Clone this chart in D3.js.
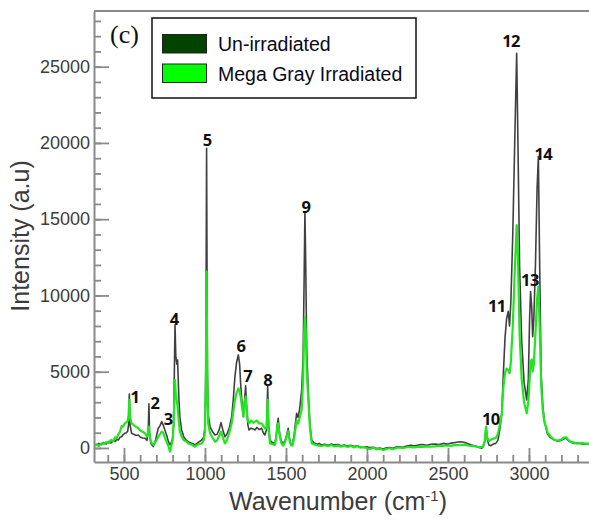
<!DOCTYPE html>
<html>
<head>
<meta charset="utf-8">
<script src="https://cdn.jsdelivr.net/npm/d3@7"></script>
<style>
  body { margin: 0; background: #fff; }
  svg { display: block; }
</style>
</head>
<body>
<svg id="chart" width="589" height="521"></svg>
<script>
// Raman spectra: wavenumber (cm-1) and intensity (a.u) for both samples
const wavenumber = [
  315,330,345,360,375,390,405,420,435,445,
  455,465,475,486,495,505,515,523,528,533,
  538,547,560,575,588,600,615,630,642,650,
  654,658,666,681,695,705,712,722,733,742,
  752,763,775,784,792,800,806,811,815,820,
  826,831,838,845,856,870,885,897,910,925,
  938,950,965,980,992,1000,1005,1010,1015,1020,
  1031,1045,1062,1075,1088,1099,1110,1123,1135,1150,
  1165,1175,1185,1195,1206,1214,1220,1230,1237,1245,
  1251,1258,1265,1272,1285,1298,1309,1320,1335,1350,
  1360,1370,1380,1387,1393,1401,1415,1432,1440,1446,
  1452,1460,1470,1483,1495,1506,1514,1522,1530,1539,
  1550,1558,1566,1575,1585,1597,1606,1612,1617,1622,
  1628,1638,1648,1659,1672,1690,1705,1720,1740,1760,
  1780,1800,1820,1840,1860,1880,1900,1920,1940,1960,
  1980,2000,2020,2040,2060,2080,2100,2120,2140,2160,
  2180,2200,2220,2245,2270,2295,2320,2345,2370,2395,
  2420,2445,2470,2495,2520,2545,2574,2600,2620,2645,
  2670,2690,2708,2718,2727,2735,2742,2752,2765,2780,
  2795,2808,2820,2832,2842,2852,2862,2872,2880,2888,
  2900,2912,2924,2932,2942,2955,2970,2986,2996,3004,
  3010,3017,3023,3030,3040,3050,3058,3066,3075,3085,
  3095,3105,3115,3130,3145,3160,3180,3200,3215,3230,
  3245,3260,3280,3300,3320,3340,3360,3380,3400,3420,
  3440
];

const unirradiated = [
  250,180,300,220,350,260,420,330,480,420,
  560,520,700,740,880,960,1000,1100,1500,3540,
  1500,960,900,820,850,720,650,640,500,1200,
  2890,1000,300,90,500,1000,1290,1450,1730,1500,
  1200,850,400,200,350,600,1500,5000,8070,6000,
  5500,5770,3500,2000,1180,700,500,410,350,280,
  200,300,420,520,700,1400,5000,19650,5000,2200,
  1400,1100,850,900,1200,1660,1200,740,900,1300,
  2050,3200,4680,5600,6100,5500,4240,2800,2050,3200,
  4070,2500,1500,1180,1300,1250,1180,1350,1200,1290,
  1000,850,1200,4070,1500,520,350,300,800,1500,
  1950,1000,450,300,500,900,1290,600,250,200,
  800,1600,2270,2000,2600,3800,6000,11000,15500,12000,
  6500,3590,1500,520,350,250,300,200,250,180,
  260,200,220,150,200,120,180,100,150,60,
  50,80,20,50,-30,0,-65,10,30,-20,
  60,80,50,130,180,140,200,230,180,240,
  260,220,300,250,320,360,410,380,300,200,
  120,50,-20,100,400,1400,600,200,150,260,
  300,500,1200,2290,4900,7200,8500,8960,8000,9500,
  14000,20000,25880,20000,12000,7000,4300,3150,4500,8500,
  10250,9200,7300,8500,12000,17000,19100,12000,5000,2800,
  1800,1300,900,700,600,500,450,500,600,640,
  450,380,300,330,280,250,300,230,260,200,
  240
];

const irradiated = [
  150,240,120,300,260,380,310,520,450,700,
  640,900,1050,1450,1400,1620,1700,1760,2100,3150,
  2000,1620,1500,1380,1290,1150,1060,960,760,1000,
  1400,800,400,200,380,600,740,900,1070,1000,
  700,410,100,-240,100,500,1400,3200,4460,3500,
  3100,2710,1800,1100,740,500,420,300,250,180,
  90,200,260,300,500,1000,4000,11570,3800,1600,
  960,700,410,500,800,1070,700,300,500,1000,
  1620,2400,3150,3600,3910,3700,3370,2600,2050,3000,
  3370,2400,1800,1620,1800,1650,1730,1800,1600,1620,
  1450,1290,1300,3150,1200,300,250,200,700,1300,
  1620,900,350,150,400,800,1100,500,200,150,
  600,1200,1800,1600,2000,2490,4500,7500,8600,7800,
  5000,3150,1300,300,250,180,150,130,180,120,
  200,100,150,90,140,60,130,40,110,20,
  50,-20,-60,10,-90,-50,-130,-60,-20,-80,
  0,30,-10,50,60,40,90,70,110,80,
  110,150,130,160,140,200,180,220,160,140,
  100,60,50,150,450,1400,700,450,550,600,
  650,900,1500,2200,4000,4900,5200,5110,4900,5600,
  8000,11500,14620,12500,7500,4500,3000,2270,3000,4500,
  5660,5800,5000,5500,7500,9800,10580,8000,4200,2500,
  1700,1400,1000,800,620,520,480,560,680,700,
  500,400,350,280,330,300,260,300,230,250,
  200
];

// Axis ticks
const xMajorTicks = [500, 1000, 1500, 2000, 2500, 3000];
const xMinorTicks = d3.range(400, 3401, 100);
const yMajorTicks = [0, 5000, 10000, 15000, 20000, 25000];
const yMinorTicks = d3.range(0, 28001, 1000);

// Numbered band assignments and where their numbers sit (wavenumber, intensity)
const peakNames = ["1","2","3","4","5","6","7","8","9","10","11","12","13","14"];
const peakNameWn = [568, 691, 773, 810, 1014, 1222, 1264, 1387, 1623, 2764, 2801, 2889, 3006, 3088];
const peakNameI = [3360, 3000, 1950, 8460, 20200, 6710, 4720, 4520, 15820, 1950, 9310, 26710, 11060, 19320];

const seriesNames = ["Un-irradiated", "Mega Gray Irradiated"];
const seriesColors = ["#004400", "#00ff00"];
const lineColors = ["#1e1e1e", "#1fe61f"];

const svg = d3.select("#chart");
const plotLeft = 94, plotRight = 600.25, plotTop = 11, plotBottom = 462;

const x = d3.scaleLinear().domain([315, 3440]).range([plotLeft, plotRight]);
const y = d3.scaleLinear().domain([-920, 28650]).range([plotBottom, plotTop]);

const axisColor = "#8a8a8a";
const textColor = "#3c3c3c";
const sans = "'Liberation Sans', Arial, sans-serif";

// Clip region for the spectra
svg.append("defs").append("clipPath").attr("id", "plotClip")
  .append("rect").attr("x", plotLeft).attr("y", plotTop)
  .attr("width", plotRight - plotLeft).attr("height", plotBottom - plotTop);

// Spectra: un-irradiated underneath, irradiated on top
const points = wavenumber.map((w, i) => ({ w, a: unirradiated[i], b: irradiated[i] }));
const lineA = d3.line().x(d => x(d.w)).y(d => y(d.a));
const lineB = d3.line().x(d => x(d.w)).y(d => y(d.b));

const plot = svg.append("g").attr("clip-path", "url(#plotClip)");
plot.append("path").datum(points)
  .attr("d", lineA).attr("fill", "none")
  .attr("stroke", lineColors[0]).attr("stroke-width", 1.6)
  .attr("stroke-opacity", 0.85).attr("stroke-linejoin", "round");
plot.append("path").datum(points)
  .attr("d", lineB).attr("fill", "none")
  .attr("stroke", lineColors[1]).attr("stroke-width", 2.2)
  .attr("stroke-linejoin", "round");

// Frame top edge
svg.append("line")
  .attr("x1", plotLeft).attr("x2", plotRight).attr("y1", plotTop).attr("y2", plotTop)
  .attr("stroke", axisColor).attr("stroke-width", 2);

function styleAxis(g) {
  g.selectAll(".domain").attr("stroke", axisColor).attr("stroke-width", 2);
  g.selectAll(".tick line").attr("stroke", axisColor).attr("stroke-width", 1.8);
  g.selectAll(".tick text").attr("fill", textColor)
    .style("font-family", sans).style("font-size", "18px");
}

// X axis: minor then major ticks, pointing inward
svg.append("g").attr("transform", `translate(0,${plotBottom})`)
  .call(d3.axisBottom(x).tickValues(xMinorTicks).tickSize(-7).tickFormat(""))
  .call(g => g.select(".domain").remove())
  .call(styleAxis);
svg.append("g").attr("transform", `translate(0,${plotBottom})`)
  .call(d3.axisBottom(x).tickValues(xMajorTicks).tickSize(-14).tickSizeOuter(0).tickPadding(5).tickFormat(d3.format("d")))
  .call(styleAxis);

// Y axis
svg.append("g").attr("transform", `translate(${plotLeft},0)`)
  .call(d3.axisLeft(y).tickValues(yMinorTicks).tickSize(-7).tickFormat(""))
  .call(g => g.select(".domain").remove())
  .call(styleAxis);
svg.append("g").attr("transform", `translate(${plotLeft},0)`)
  .call(d3.axisLeft(y).tickValues(yMajorTicks).tickSize(-15).tickSizeOuter(0).tickPadding(4).tickFormat(d3.format("d")))
  .call(styleAxis);

// Axis titles
const xTitle = svg.append("text")
  .attr("x", 338).attr("y", 510).attr("text-anchor", "middle")
  .attr("fill", textColor).style("font-family", sans).style("font-size", "25px");
xTitle.append("tspan").text("Wavenumber (cm");
xTitle.append("tspan").attr("dy", -9).style("font-size", "15px").text("-1");
xTitle.append("tspan").attr("dy", 9).text(")");

svg.append("text")
  .attr("transform", "translate(29,236) rotate(-90)")
  .attr("text-anchor", "middle")
  .attr("fill", textColor).style("font-family", sans).style("font-size", "25px")
  .text("Intensity (a.u)");

// Band numbers
svg.append("g").selectAll("text").data(peakNames).join("text")
  .attr("x", (d, i) => x(peakNameWn[i]))
  .attr("y", (d, i) => y(peakNameI[i]))
  .attr("text-anchor", "middle").attr("dominant-baseline", "central")
  .attr("fill", "#111")
  .style("font-family", "'Open Sans', sans-serif").style("font-weight", "700")
  .style("font-size", "16.5px").style("letter-spacing", "-0.6px")
  .text(d => d);

// Panel tag
svg.append("text").attr("x", 110).attr("y", 43)
  .attr("fill", "#111").style("font-family", "'Liberation Serif', 'Times New Roman', serif")
  .style("font-size", "26px").text("(c)");

// Legend
const legend = svg.append("g");
legend.append("rect").attr("x", 152).attr("y", 18).attr("width", 264).attr("height", 80)
  .attr("fill", "#fff").attr("stroke", "#111").attr("stroke-width", 1.5);
const rows = legend.selectAll("g.row").data(seriesNames).join("g").attr("class", "row")
  .attr("transform", (d, i) => `translate(0,${i * 29.5})`);
rows.append("rect").attr("x", 162.5).attr("y", 34.5).attr("width", 44).attr("height", 18.5)
  .attr("fill", (d, i) => seriesColors[i]).attr("stroke", "#222").attr("stroke-width", 1);
rows.append("text").attr("x", 218).attr("y", 51)
  .attr("fill", "#0a0a1a").style("font-family", sans).style("font-size", "19.5px")
  .text(d => d);
</script>
</body>
</html>
